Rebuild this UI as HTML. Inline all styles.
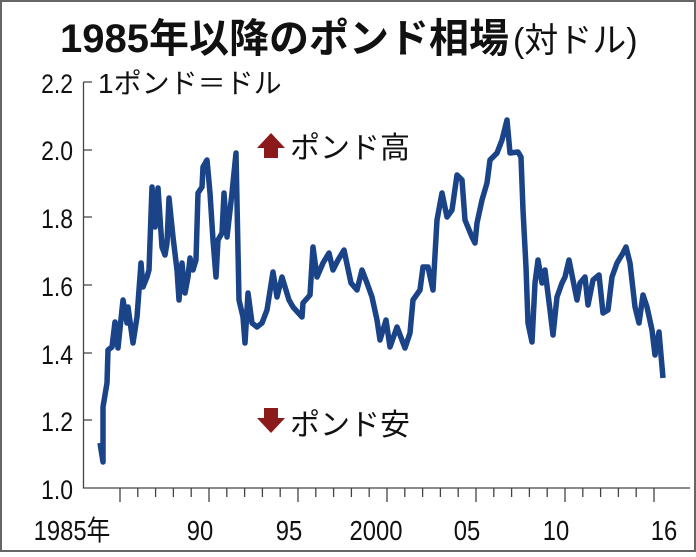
<!DOCTYPE html>
<html><head><meta charset="utf-8"><style>
body{margin:0;background:#fff}
svg text{font-family:"Liberation Sans","Noto Sans CJK JP",sans-serif}
</style></head><body>
<svg width="696" height="552" viewBox="0 0 696 552" xmlns="http://www.w3.org/2000/svg">
<rect x="1" y="1" width="694" height="550" fill="#fff" stroke="#666" stroke-width="2"/>
<text x="60" y="52" font-size="40" font-weight="bold" fill="#111">1985年以降のポンド相場<tspan font-size="34" font-weight="normal" dx="4">(対ドル)</tspan></text>
<g font-size="27" fill="#111" text-anchor="end">
<text x="73" y="93" transform="scale(0.85 1)" transform-origin="73 0">2.2</text>
<text x="73" y="160" transform="scale(0.85 1)" transform-origin="73 0">2.0</text>
<text x="73" y="228" transform="scale(0.85 1)" transform-origin="73 0">1.8</text>
<text x="73" y="296" transform="scale(0.85 1)" transform-origin="73 0">1.6</text>
<text x="73" y="364" transform="scale(0.85 1)" transform-origin="73 0">1.4</text>
<text x="73" y="431" transform="scale(0.85 1)" transform-origin="73 0">1.2</text>
<text x="73" y="499" transform="scale(0.85 1)" transform-origin="73 0">1.0</text>
</g>
<text x="98" y="93" font-size="28" fill="#111">1ポンド＝ドル</text>
<g stroke="#444" stroke-width="1.3" fill="none">
<path d="M83.5 82V488H690"/>
<path d="M83.5 82H92M83.5 150H92M83.5 217H92M83.5 285H92M83.5 353H92M83.5 420H92"/>
<path d="M120 488v14M137.8 488v9M155.6 488v9M173.4 488v9M191.2 488v9M209 488v14M226.8 488v9M244.6 488v9M262.4 488v9M280.2 488v9M298 488v14M315.8 488v9M333.6 488v9M351.4 488v9M369.2 488v9M387 488v14M404.8 488v9M422.6 488v9M440.4 488v9M458.2 488v9M476 488v14M493.8 488v9M511.6 488v9M529.4 488v9M547.2 488v9M565 488v14M582.8 488v9M600.6 488v9M618.4 488v9M636.2 488v9M654 488v14"/>
</g>
<g font-size="28" fill="#111" text-anchor="middle">
<text x="72" y="540" transform="scale(0.85 1)" transform-origin="72 0">1985年</text>
<text x="200" y="540" transform="scale(0.85 1)" transform-origin="200 0">90</text>
<text x="289" y="540" transform="scale(0.85 1)" transform-origin="289 0">95</text>
<text x="376" y="540" transform="scale(0.85 1)" transform-origin="376 0">2000</text>
<text x="467" y="540" transform="scale(0.85 1)" transform-origin="467 0">05</text>
<text x="556" y="540" transform="scale(0.85 1)" transform-origin="556 0">10</text>
<text x="664" y="540" transform="scale(0.85 1)" transform-origin="664 0">16</text>
</g>
<path d="M257 148L271 133L285 148H278V158H264V148Z" fill="#8b1a1a"/>
<text x="290" y="158" font-size="30" fill="#111">ポンド高</text>
<path d="M264 408H278V418H285L271 433L257 418H264Z" fill="#8b1a1a"/>
<text x="290" y="435" font-size="30" fill="#111">ポンド安</text>
<polyline fill="none" stroke="#1a4388" stroke-width="5.5" stroke-linejoin="round" points="100,443 103,462 103,407 107,383 108,350 112,347 115,322 118,348 123,300 127,323 128,307 133,343 137,317 141,263 143,287 147,277 149,270 152,187 155,227 158,188 162,247 165,255 167,243 169,198 173,237 177,270 179,300 182,263 185,293 188,277 190,258 193,270 196,260 198,193 202,187 203,167 207,160 210,193 213,240 216,277 218,240 222,233 224,193 227,237 232,193 236,153 239,300 243,317 245,343 248,293 252,323 257,327 262,323 267,310 273,272 277,297 282,277 289,300 293,307 302,317 303,303 310,295 313,247 317,277 323,263 329,253 333,270 338,260 344,250 351,283 357,290 362,270 367,283 372,297 377,320 380,340 386,320 390,347 397,327 405,348 410,333 413,300 420,290 423,267 428,267 433,290 437,220 442,193 447,217 452,210 457,175 462,180 465,220 472,237 475,243 477,223 482,200 487,183 490,160 497,153 502,140 507,120 510,153 518,152 521,157 523,210 526,267 528,323 532,342 535,283 538,260 542,283 545,270 550,310 553,335 557,297 562,283 565,277 569,260 573,280 577,300 580,283 585,277 588,305 593,280 599,275 603,313 608,310 612,277 617,263 623,253 626,247 630,263 635,307 639,323 643,295 647,307 652,330 655,355 659,332 663,378"/>
</svg>
</body></html>
